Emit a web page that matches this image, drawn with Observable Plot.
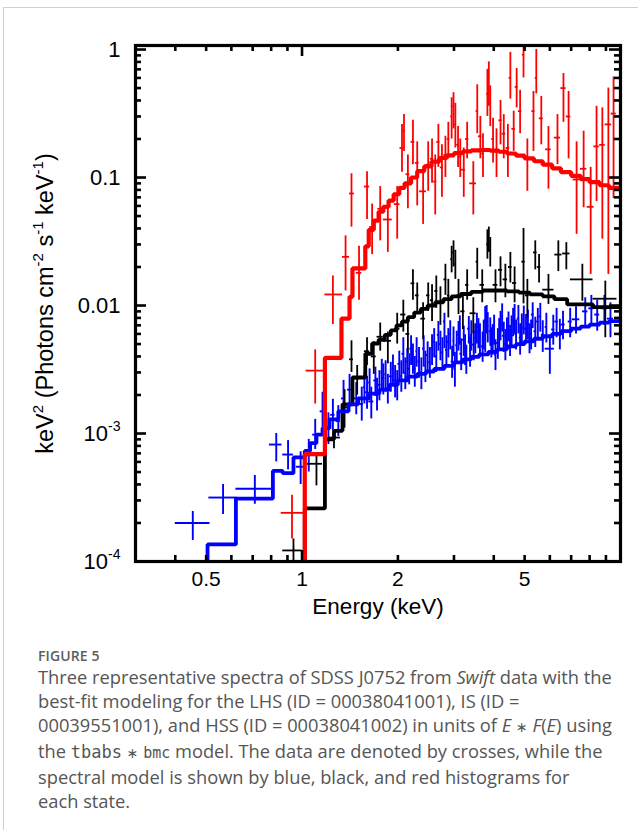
<!DOCTYPE html>
<html>
<head>
<meta charset="utf-8">
<script src="https://cdn.jsdelivr.net/npm/d3@7"></script>
<script src="https://cdn.jsdelivr.net/npm/@observablehq/plot@0.6"></script>
<style>
  html, body { margin: 0; padding: 0; background: #fff; }
  body { width: 638px; height: 830px; position: relative; overflow: hidden; }
  #border { position: absolute; left: 3px; top: 7px; width: 700px; height: 900px;
            border-left: 1px solid #cfcfcf; border-top: 1px solid #cfcfcf; }
  #chart { position: absolute; left: 0; top: 0; }
  #cap { position: absolute; left: 38px; top: 647px; font-family: "Open Sans", sans-serif; color: #555; }
  #cap .fig { font-size: 14px; font-weight: 600; line-height: 18px; color: #5c5c5c; letter-spacing: 0.1px; }
  #cap .line { font-size: 18.3px; line-height: 24px; white-space: nowrap; }
  #cap .mono { font-family: "DejaVu Sans Mono", monospace; font-size: 17px; }
  #cap .op { font-family: "DejaVu Sans", sans-serif; font-size: 14px; }
  #cap .bmc { font-family: "DejaVu Sans Mono", monospace; font-size: 15px; }
</style>
</head>
<body>
<div id="border"></div>
<div id="chart"></div>
<div id="cap">
  <div class="fig">FIGURE 5</div>
  <div class="line">Three representative spectra of SDSS J0752 from <i>Swift</i> data with the</div>
  <div class="line">best-fit modeling for the LHS (ID = 00038041001), IS (ID =</div>
  <div class="line">00039551001), and HSS (ID = 00038041002) in units of <i>E</i> <span class="op">∗</span> <i>F</i>(<i>E</i>) using</div>
  <div class="line">the <span class="mono">tbabs</span> <span class="op">∗</span> <span class="bmc">bmc</span> model. The data are denoted by crosses, while the</div>
  <div class="line">spectral model is shown by blue, black, and red histograms for</div>
  <div class="line">each state.</div>
</div>
<script>
// ---------------- axis ticks / labels ----------------
const xTickValues = [0.5, 1, 2, 5];
const xTickLabels = ["0.5", "1", "2", "5"];
const xMajorTicks = [1];
const xMinorTicks = [0.4, 0.5, 0.6, 0.7, 0.8, 0.9, 2, 3, 4, 5, 6, 7, 8, 9];
const yTickValues = [1e-4, 1e-3, 1e-2, 0.1, 1];
const yTickLabels = ["10^{-4}", "10^{-3}", "0.01", "0.1", "1"];
const yMinorTicks = [
  2e-4, 3e-4, 4e-4, 5e-4, 6e-4, 7e-4, 8e-4, 9e-4,
  2e-3, 3e-3, 4e-3, 5e-3, 6e-3, 7e-3, 8e-3, 9e-3,
  2e-2, 3e-2, 4e-2, 5e-2, 6e-2, 7e-2, 8e-2, 9e-2,
  0.2, 0.3, 0.4, 0.5, 0.6, 0.7, 0.8, 0.9
];
const xTitle = "Energy (keV)";
const yTitle = "keV^{2} (Photons cm^{-2} s^{-1} keV^{-1})";

// ---------------- data: [E, Elo, Ehi, F, Flo, Fhi] ----------------
const blueData = [
  [0.454, 0.40, 0.514, 2.0e-4, 1.46e-4, 2.46e-4],
  [0.565, 0.51, 0.625, 3.16e-4, 2.33e-4, 4.0e-4],
  [0.711, 0.62, 0.805, 3.7e-4, 2.8e-4, 4.7e-4],
  [0.83, 0.79, 0.865, 8.2e-4, 6.0e-4, 1.0e-3],
  [0.904, 0.87, 0.94, 6.85e-4, 5.2e-4, 8.8e-4],
  [0.99, 0.96, 1.02, 5.5e-4, 4.0e-4, 7.2e-4],
  [1.05, 1.03, 1.07, 7.0e-4, 5.0e-4, 9.0e-4],
  [1.10, 1.08, 1.12, 9.8e-4, 7.5e-4, 1.29e-3],
  [1.16, 1.14, 1.18, 1.49e-3, 1.1e-3, 2.1e-3],
  [1.21, 1.19, 1.23, 1.1e-3, 8.2e-4, 1.45e-3],
  [1.25, 1.23, 1.27, 1.4e-3, 1.05e-3, 1.85e-3],
  [1.30, 1.28, 1.32, 1.25e-3, 9.5e-4, 1.65e-3],
  [1.35, 1.33, 1.37, 1.88e-3, 1.3e-3, 2.6e-3],
  [1.41, 1.39, 1.43, 2.2e-3, 1.6e-3, 2.9e-3],
  [1.48, 1.46, 1.50, 1.88e-3, 1.4e-3, 2.5e-3],
  [1.54, 1.52, 1.56, 1.7e-3, 1.25e-3, 2.3e-3],
  [1.57, 1.56, 1.58, 2.3e-3, 1.7e-3, 3.0e-3],
  [1.60, 1.58, 1.62, 2.1e-3, 1.55e-3, 2.8e-3],
  [1.63, 1.62, 1.64, 2.5e-3, 1.8e-3, 3.2e-3],
  [1.65, 1.62, 1.68, 1.78e-3, 1.3e-3, 2.3e-3],
  [1.70, 1.68, 1.72, 2.6e-3, 1.95e-3, 3.3e-3],
  [1.72, 1.71, 1.73, 2.0e-3, 1.5e-3, 2.7e-3],
  [1.75, 1.73, 1.77, 2.4e-3, 1.8e-3, 3.1e-3],
  [1.78, 1.77, 1.79, 3.0e-3, 2.2e-3, 3.8e-3],
  [1.80, 1.78, 1.82, 2.7e-3, 2.0e-3, 3.5e-3],
  [1.83, 1.82, 1.84, 2.9e-3, 2.1e-3, 3.7e-3],
  [1.86, 1.84, 1.88, 2.25e-3, 1.7e-3, 2.9e-3],
  [1.90, 1.88, 1.92, 2.8e-3, 2.1e-3, 3.6e-3],
  [1.93, 1.92, 1.94, 3.2e-3, 2.4e-3, 4.1e-3],
  [1.96, 1.94, 1.98, 2.6e-3, 1.9e-3, 3.4e-3],
  [1.99, 1.98, 2.00, 2.4e-3, 1.8e-3, 3.1e-3],
  [2.02, 2.00, 2.04, 3.5e-3, 2.6e-3, 4.4e-3],
  [2.05, 2.03, 2.07, 2.8e-3, 2.1e-3, 3.7e-3],
  [2.08, 2.06, 2.10, 4.2e-3, 2.9e-3, 5.6e-3],
  [2.11, 2.10, 2.12, 3.0e-3, 2.2e-3, 3.9e-3],
  [2.14, 2.12, 2.16, 3.65e-3, 2.7e-3, 4.6e-3],
  [2.17, 2.15, 2.19, 3.2e-3, 2.4e-3, 4.2e-3],
  [2.20, 2.18, 2.22, 4.6e-3, 3.4e-3, 5.8e-3],
  [2.23, 2.22, 2.24, 3.9e-3, 2.9e-3, 5.0e-3],
  [2.26, 2.24, 2.28, 3.2e-3, 2.3e-3, 4.0e-3],
  [2.29, 2.28, 2.30, 4.4e-3, 3.3e-3, 5.6e-3],
  [2.33, 2.31, 2.35, 3.65e-3, 2.7e-3, 4.7e-3],
  [2.37, 2.35, 2.39, 3.0e-3, 2.2e-3, 3.9e-3],
  [2.41, 2.39, 2.43, 4.6e-3, 3.3e-3, 5.8e-3],
  [2.44, 2.43, 2.45, 3.4e-3, 2.5e-3, 4.4e-3],
  [2.48, 2.46, 2.50, 4.1e-3, 3.0e-3, 5.2e-3],
  [2.52, 2.50, 2.54, 3.6e-3, 2.7e-3, 4.7e-3],
  [2.56, 2.54, 2.58, 4.6e-3, 3.4e-3, 5.9e-3],
  [2.60, 2.58, 2.62, 5.2e-3, 3.9e-3, 6.6e-3],
  [2.64, 2.62, 2.66, 4.0e-3, 3.0e-3, 5.2e-3],
  [2.68, 2.66, 2.70, 5.9e-3, 4.4e-3, 7.5e-3],
  [2.72, 2.70, 2.74, 5.0e-3, 3.7e-3, 6.3e-3],
  [2.76, 2.74, 2.78, 4.3e-3, 3.2e-3, 5.6e-3],
  [2.80, 2.78, 2.82, 7.5e-3, 4.6e-3, 8.7e-3],
  [2.84, 2.82, 2.86, 4.5e-3, 3.4e-3, 5.8e-3],
  [2.88, 2.86, 2.90, 5.2e-3, 3.9e-3, 6.6e-3],
  [2.92, 2.90, 2.94, 6.0e-3, 4.5e-3, 7.6e-3],
  [2.96, 2.94, 2.98, 3.65e-3, 2.7e-3, 4.8e-3],
  [2.99, 2.98, 3.00, 5.3e-3, 4.0e-3, 6.8e-3],
  [3.02, 3.00, 3.04, 3.2e-3, 2.3e-3, 4.3e-3],
  [3.06, 3.04, 3.08, 4.9e-3, 3.6e-3, 6.3e-3],
  [3.10, 3.08, 3.13, 5.9e-3, 4.4e-3, 7.5e-3],
  [3.13, 3.12, 3.14, 6.6e-3, 4.9e-3, 8.3e-3],
  [3.16, 3.13, 3.19, 4.2e-3, 3.1e-3, 5.5e-3],
  [3.22, 3.19, 3.25, 5.4e-3, 4.0e-3, 6.9e-3],
  [3.25, 3.24, 3.26, 4.6e-3, 3.4e-3, 5.9e-3],
  [3.28, 3.25, 3.31, 3.8e-3, 2.9e-3, 4.9e-3],
  [3.34, 3.31, 3.37, 6.6e-3, 5.0e-3, 8.2e-3],
  [3.37, 3.36, 3.38, 4.4e-3, 3.3e-3, 5.7e-3],
  [3.40, 3.37, 3.43, 5.9e-3, 4.4e-3, 7.6e-3],
  [3.46, 3.43, 3.49, 4.95e-3, 3.7e-3, 6.4e-3],
  [3.50, 3.49, 3.51, 5.6e-3, 4.2e-3, 7.2e-3],
  [3.54, 3.50, 3.58, 6.8e-3, 5.0e-3, 8.7e-3],
  [3.58, 3.57, 3.59, 6.2e-3, 4.6e-3, 7.9e-3],
  [3.62, 3.59, 3.65, 5.6e-3, 4.2e-3, 7.2e-3],
  [3.69, 3.66, 3.72, 4.8e-3, 3.6e-3, 6.2e-3],
  [3.72, 3.71, 3.73, 6.0e-3, 4.5e-3, 7.7e-3],
  [3.76, 3.73, 3.79, 7.5e-3, 4.3e-3, 9.8e-3],
  [3.80, 3.79, 3.81, 8.0e-3, 6.0e-3, 1.0e-2],
  [3.83, 3.80, 3.86, 6.9e-3, 5.1e-3, 8.8e-3],
  [3.90, 3.87, 3.93, 6.3e-3, 4.8e-3, 8.0e-3],
  [3.93, 3.92, 3.94, 5.2e-3, 3.9e-3, 6.7e-3],
  [3.97, 3.94, 4.00, 5.5e-3, 4.1e-3, 7.1e-3],
  [4.01, 4.00, 4.02, 6.6e-3, 4.9e-3, 8.4e-3],
  [4.05, 4.02, 4.08, 4.14e-3, 3.1e-3, 5.4e-3],
  [4.12, 4.08, 4.16, 5.1e-3, 3.8e-3, 6.6e-3],
  [4.16, 4.14, 4.18, 6.2e-3, 4.6e-3, 7.9e-3],
  [4.20, 4.16, 4.24, 7.1e-3, 5.3e-3, 9.0e-3],
  [4.25, 4.23, 4.27, 8.2e-3, 6.2e-3, 1.03e-2],
  [4.30, 4.26, 4.34, 5.8e-3, 4.3e-3, 7.4e-3],
  [4.35, 4.33, 4.37, 5.0e-3, 3.7e-3, 6.5e-3],
  [4.40, 4.36, 4.44, 6.3e-3, 4.7e-3, 8.0e-3],
  [4.45, 4.43, 4.47, 7.0e-3, 5.2e-3, 8.9e-3],
  [4.50, 4.46, 4.54, 5.4e-3, 4.0e-3, 7.0e-3],
  [4.55, 4.53, 4.57, 6.5e-3, 4.8e-3, 8.3e-3],
  [4.60, 4.56, 4.64, 7.5e-3, 5.7e-3, 9.5e-3],
  [4.65, 4.63, 4.67, 8.0e-3, 6.0e-3, 1.02e-2],
  [4.70, 4.66, 4.74, 6.0e-3, 4.5e-3, 7.7e-3],
  [4.78, 4.74, 4.82, 7.9e-3, 6.0e-3, 1.0e-2],
  [4.84, 4.81, 4.87, 5.6e-3, 4.1e-3, 7.2e-3],
  [4.90, 4.85, 4.95, 6.7e-3, 5.0e-3, 8.6e-3],
  [4.97, 4.94, 5.00, 7.8e-3, 5.9e-3, 9.9e-3],
  [5.05, 5.00, 5.10, 6.6e-3, 5.0e-3, 8.5e-3],
  [5.12, 5.09, 5.15, 7.2e-3, 5.4e-3, 9.2e-3],
  [5.18, 5.12, 5.24, 5.6e-3, 4.2e-3, 7.2e-3],
  [5.24, 5.21, 5.27, 6.0e-3, 4.5e-3, 7.7e-3],
  [5.30, 5.25, 5.35, 8.5e-3, 6.6e-3, 1.05e-2],
  [5.40, 5.35, 5.45, 6.3e-3, 4.7e-3, 8.1e-3],
  [5.50, 5.45, 5.55, 7.5e-3, 5.6e-3, 9.5e-3],
  [5.60, 5.55, 5.65, 8.2e-3, 6.2e-3, 1.04e-2],
  [5.70, 5.64, 5.76, 5.9e-3, 4.3e-3, 7.6e-3],
  [5.85, 5.80, 5.90, 6.8e-3, 5.1e-3, 8.7e-3],
  [6.00, 5.80, 6.20, 4.6e-3, 2.9e-3, 5.6e-3],
  [6.15, 6.08, 6.22, 6.5e-3, 4.9e-3, 8.4e-3],
  [6.30, 6.22, 6.38, 7.5e-3, 5.6e-3, 9.5e-3],
  [6.45, 6.38, 6.52, 6.0e-3, 4.5e-3, 7.8e-3],
  [6.60, 6.50, 6.70, 7.1e-3, 5.4e-3, 9.0e-3],
  [6.95, 6.85, 7.05, 7.5e-3, 5.6e-3, 9.5e-3],
  [7.25, 7.05, 7.45, 7.8e-3, 6.0e-3, 9.8e-3],
  [7.75, 7.60, 7.90, 9.0e-3, 6.6e-3, 1.15e-2],
  [8.10, 7.95, 8.25, 9.5e-3, 7.0e-3, 1.2e-2],
  [8.45, 8.30, 8.60, 8.5e-3, 6.3e-3, 1.1e-2],
  [8.90, 8.70, 9.10, 9.5e-3, 7.0e-3, 1.2e-2],
  [9.30, 9.10, 9.50, 7.9e-3, 5.6e-3, 1.05e-2]
];

const blackData = [
  [0.94, 0.87, 1.00, 1.22e-4, 1.0e-4, 1.5e-4],
  [1.11, 1.04, 1.16, 5.8e-4, 3.9e-4, 6.7e-4],
  [1.26, 1.21, 1.32, 9.3e-4, 7.6e-4, 1.05e-3],
  [1.36, 1.33, 1.39, 1.6e-3, 1.1e-3, 2.2e-3],
  [1.43, 1.41, 1.45, 3.8e-3, 3.0e-3, 5.3e-3],
  [1.49, 1.45, 1.53, 2.7e-3, 2.0e-3, 3.4e-3],
  [1.60, 1.57, 1.63, 4.4e-3, 3.4e-3, 5.6e-3],
  [1.68, 1.65, 1.71, 4.0e-3, 2.9e-3, 5.2e-3],
  [1.76, 1.72, 1.80, 5.7e-3, 4.4e-3, 7.3e-3],
  [1.86, 1.81, 1.91, 5.3e-3, 3.5e-3, 6.2e-3],
  [1.99, 1.95, 2.03, 6.6e-3, 5.0e-3, 8.7e-3],
  [2.08, 2.04, 2.12, 8.5e-3, 6.2e-3, 1.1e-2],
  [2.15, 2.12, 2.18, 6.0e-3, 4.2e-3, 8.0e-3],
  [2.23, 2.20, 2.26, 1.49e-2, 1.1e-2, 1.9e-2],
  [2.30, 2.27, 2.33, 1.2e-2, 8.5e-3, 1.5e-2],
  [2.40, 2.36, 2.44, 7.9e-3, 5.4e-3, 1.05e-2],
  [2.49, 2.46, 2.52, 1.2e-2, 9.0e-3, 1.5e-2],
  [2.56, 2.53, 2.59, 1.1e-2, 7.5e-3, 1.45e-2],
  [2.64, 2.61, 2.67, 1.3e-2, 9.5e-3, 1.7e-2],
  [2.72, 2.69, 2.75, 1.05e-2, 7.0e-3, 1.4e-2],
  [2.82, 2.79, 2.85, 1.6e-2, 1.2e-2, 2.1e-2],
  [2.88, 2.86, 2.91, 1.2e-2, 8.0e-3, 1.6e-2],
  [2.95, 2.93, 2.97, 2.3e-2, 1.8e-2, 2.9e-2],
  [2.99, 2.97, 3.01, 2.6e-2, 2.0e-2, 3.2e-2],
  [3.03, 3.01, 3.05, 2.1e-2, 1.6e-2, 2.7e-2],
  [3.10, 3.06, 3.14, 1.2e-2, 8.5e-3, 1.6e-2],
  [3.20, 3.15, 3.25, 9.0e-3, 6.5e-3, 1.25e-2],
  [3.30, 3.26, 3.34, 1.45e-2, 1.1e-2, 1.9e-2],
  [3.45, 3.37, 3.52, 8.7e-3, 6.0e-3, 1.15e-2],
  [3.55, 3.52, 3.58, 2.2e-2, 1.6e-2, 2.8e-2],
  [3.68, 3.62, 3.74, 1.45e-2, 1.05e-2, 1.9e-2],
  [3.82, 3.80, 3.84, 3.0e-2, 2.3e-2, 3.9e-2],
  [3.86, 3.84, 3.88, 3.4e-2, 2.6e-2, 4.1e-2],
  [3.90, 3.88, 3.92, 2.7e-2, 2.0e-2, 3.4e-2],
  [4.05, 3.98, 4.12, 1.45e-2, 1.05e-2, 1.9e-2],
  [4.20, 4.14, 4.26, 1.9e-2, 1.4e-2, 2.4e-2],
  [4.35, 4.28, 4.42, 1.6e-2, 1.15e-2, 2.1e-2],
  [4.51, 4.45, 4.57, 2.0e-2, 1.5e-2, 2.6e-2],
  [4.65, 4.58, 4.72, 1.5e-2, 1.05e-2, 2.0e-2],
  [4.96, 4.90, 5.02, 2.2e-2, 1.03e-2, 4.0e-2],
  [5.10, 5.03, 5.17, 1.2e-2, 8.0e-3, 1.6e-2],
  [5.40, 5.33, 5.47, 2.6e-2, 1.9e-2, 3.2e-2],
  [5.55, 5.48, 5.62, 2.0e-2, 1.5e-2, 2.5e-2],
  [5.94, 5.70, 6.18, 1.33e-2, 1.02e-2, 1.75e-2],
  [6.38, 6.22, 6.55, 2.5e-2, 1.84e-2, 3.2e-2],
  [6.76, 6.58, 6.94, 2.55e-2, 1.9e-2, 3.1e-2],
  [7.59, 6.96, 8.20, 1.6e-2, 1.08e-2, 2.1e-2],
  [8.96, 8.20, 9.75, 1.13e-2, 5.6e-3, 1.55e-2]
];

const redData = [
  [0.93, 0.86, 1.01, 2.4e-4, 1.5e-4, 3.3e-4],
  [1.10, 1.03, 1.18, 3.1e-3, 1.7e-3, 4.5e-3],
  [1.25, 1.18, 1.34, 1.22e-2, 7.1e-3, 1.7e-2],
  [1.37, 1.34, 1.41, 2.4e-2, 1.3e-2, 3.5e-2],
  [1.43, 1.41, 1.46, 7.5e-2, 4.1e-2, 0.107],
  [1.51, 1.48, 1.54, 1.8e-2, 1.1e-2, 2.9e-2],
  [1.60, 1.57, 1.63, 8.5e-2, 4.7e-2, 0.111],
  [1.66, 1.63, 1.69, 4.1e-2, 2.5e-2, 6.2e-2],
  [1.76, 1.73, 1.80, 5.7e-2, 3.2e-2, 8.5e-2],
  [1.86, 1.80, 1.92, 4.7e-2, 2.6e-2, 5.7e-2],
  [1.99, 1.95, 2.03, 6.2e-2, 3.3e-2, 8.5e-2],
  [2.06, 2.03, 2.08, 0.17, 0.11, 0.26],
  [2.09, 2.07, 2.11, 0.23, 0.16, 0.31],
  [2.15, 2.12, 2.18, 0.106, 0.057, 0.15],
  [2.23, 2.20, 2.26, 0.19, 0.126, 0.28],
  [2.30, 2.27, 2.33, 0.13, 0.06, 0.19],
  [2.40, 2.34, 2.46, 0.078, 0.043, 0.111],
  [2.49, 2.46, 2.52, 0.126, 0.078, 0.19],
  [2.56, 2.53, 2.59, 0.14, 0.09, 0.20],
  [2.62, 2.59, 2.65, 0.093, 0.051, 0.15],
  [2.68, 2.65, 2.71, 0.19, 0.12, 0.26],
  [2.75, 2.72, 2.78, 0.12, 0.07, 0.18],
  [2.82, 2.79, 2.85, 0.15, 0.10, 0.21],
  [2.88, 2.86, 2.91, 0.20, 0.14, 0.27],
  [2.95, 2.93, 2.97, 0.30, 0.20, 0.42],
  [2.99, 2.97, 3.01, 0.36, 0.24, 0.46],
  [3.03, 3.01, 3.05, 0.26, 0.17, 0.38],
  [3.09, 3.06, 3.12, 0.18, 0.12, 0.25],
  [3.14, 3.12, 3.17, 0.146, 0.10, 0.20],
  [3.22, 3.17, 3.26, 0.115, 0.07, 0.17],
  [3.30, 3.26, 3.34, 0.20, 0.14, 0.27],
  [3.45, 3.36, 3.53, 0.09, 0.051, 0.133],
  [3.55, 3.52, 3.58, 0.33, 0.22, 0.53],
  [3.63, 3.58, 3.67, 0.21, 0.14, 0.30],
  [3.70, 3.67, 3.73, 0.154, 0.10, 0.22],
  [3.82, 3.80, 3.84, 0.45, 0.30, 0.70],
  [3.86, 3.84, 3.88, 0.55, 0.36, 0.80],
  [3.90, 3.88, 3.92, 0.38, 0.25, 0.52],
  [3.98, 3.94, 4.02, 0.20, 0.13, 0.29],
  [4.08, 4.03, 4.13, 0.16, 0.10, 0.24],
  [4.20, 4.15, 4.25, 0.28, 0.18, 0.40],
  [4.30, 4.25, 4.36, 0.22, 0.14, 0.31],
  [4.43, 4.37, 4.49, 0.17, 0.10, 0.26],
  [4.51, 4.47, 4.55, 0.60, 0.41, 0.95],
  [4.62, 4.56, 4.68, 0.24, 0.16, 0.33],
  [4.72, 4.67, 4.77, 0.51, 0.35, 0.71],
  [4.84, 4.78, 4.90, 0.33, 0.22, 0.48],
  [4.96, 4.92, 5.00, 0.91, 0.60, 1.2],
  [5.10, 5.02, 5.18, 0.14, 0.078, 0.20],
  [5.33, 5.27, 5.39, 0.33, 0.16, 0.47],
  [5.44, 5.40, 5.48, 0.60, 0.45, 1.0],
  [5.64, 5.56, 5.72, 0.29, 0.18, 0.43],
  [5.94, 5.82, 6.06, 0.166, 0.081, 0.25],
  [6.34, 6.20, 6.48, 0.205, 0.126, 0.31],
  [6.62, 6.50, 6.75, 0.50, 0.27, 0.65],
  [6.87, 6.76, 6.98, 0.30, 0.14, 0.47],
  [7.28, 7.10, 7.46, 0.0965, 0.036, 0.19],
  [7.66, 7.48, 7.84, 0.117, 0.058, 0.23],
  [8.06, 7.86, 8.26, 0.059, 0.0175, 0.12],
  [8.41, 8.25, 8.58, 0.175, 0.065, 0.36],
  [8.77, 8.60, 8.95, 0.18, 0.033, 0.35],
  [9.16, 8.95, 9.38, 0.26, 0.0175, 0.50],
  [9.51, 9.35, 9.70, 0.316, 0.0685, 0.61]
];

// ---------------- model histograms: bin left edges & values ----------------
const blueModelE = [0.505, 0.62, 0.81, 0.87, 0.94, 1.02, 1.06, 1.11, 1.16, 1.22, 1.30, 1.40, 1.50, 1.62, 1.75, 1.88,
  2.0, 2.15, 2.3, 2.45, 2.6, 2.8, 3.0, 3.2, 3.4, 3.6, 3.85, 4.1, 4.4, 4.7, 5.0, 5.35, 5.7, 6.1, 6.5, 7.0, 7.5, 8.0, 8.6, 9.2];
const blueModelF = [1.36e-4, 3.1e-4, 5.1e-4, 4.9e-4, 6.5e-4, 7.3e-4, 8.4e-4, 9.8e-4, 1.1e-3, 1.29e-3, 1.49e-3, 1.69e-3, 1.88e-3, 2.05e-3, 2.2e-3, 2.4e-3,
  2.6e-3, 2.78e-3, 2.92e-3, 3.05e-3, 3.2e-3, 3.38e-3, 3.6e-3, 3.8e-3, 3.97e-3, 4.15e-3, 4.35e-3, 4.55e-3, 4.8e-3, 5.0e-3, 5.25e-3, 5.5e-3, 5.75e-3, 6.0e-3, 6.3e-3, 6.6e-3, 6.85e-3, 7.1e-3, 7.35e-3, 7.55e-3];

const blackModelE = [1.02, 1.18, 1.26, 1.34, 1.44, 1.58, 1.66, 1.74, 1.82, 1.90, 1.98, 2.06, 2.15, 2.25, 2.36, 2.48, 2.62, 2.78, 2.95, 3.15, 3.4, 3.7, 4.0, 4.4, 4.8, 5.2, 5.7, 6.2, 6.8, 8.2];
const blackModelF = [2.6e-4, 9.0e-4, 1.05e-3, 1.69e-3, 2.74e-3, 4.2e-3, 5.05e-3, 5.4e-3, 5.9e-3, 6.4e-3, 7.0e-3, 7.5e-3, 8.1e-3, 8.8e-3, 9.4e-3, 1.0e-2, 1.06e-2, 1.12e-2, 1.18e-2, 1.23e-2, 1.28e-2, 1.31e-2, 1.31e-2, 1.29e-2, 1.26e-2, 1.22e-2, 1.18e-2, 1.12e-2, 1.02e-2, 9.7e-3];

const redModelE = [1.02, 1.18, 1.33, 1.41, 1.44, 1.58, 1.62, 1.68, 1.74, 1.80, 1.87, 1.94, 2.02, 2.10, 2.20, 2.30, 2.42, 2.55, 2.70, 2.85, 3.0, 3.2, 3.4, 3.65, 3.9, 4.15, 4.4, 4.7, 5.0, 5.35, 5.7, 6.1, 6.5, 7.0, 7.5, 8.0, 8.6, 9.2];
const redModelF = [6.9e-4, 3.9e-3, 7.9e-3, 1.17e-2, 1.95e-2, 2.9e-2, 3.9e-2, 4.6e-2, 5.4e-2, 5.9e-2, 6.6e-2, 7.4e-2, 8.3e-2, 9.0e-2, 0.100, 0.112, 0.122, 0.133, 0.142, 0.149, 0.155, 0.160, 0.163, 0.164, 0.162, 0.159, 0.154, 0.148, 0.141, 0.134, 0.126, 0.118, 0.110, 0.103, 0.097, 0.092, 0.087, 0.083];

// ---------------- layout ----------------
const W = 638, H = 620, ML = 135, MR = 18, MT = 45, MB = 59;
const plotW = W - ML - MR, plotH = H - MT - MB;
const xDomain = [0.3, 10], yDomain = [1e-4, 1.075];
const RED = "#ff0000", BLUE = "#0000ff", BLACK = "#000000";

const rows = arr => arr.map(([e, elo, ehi, f, flo, fhi]) => ({e, elo, ehi, f, flo, fhi}));
function stepPoints(edges, vals) {
  const pts = [{e: edges[0], f: yDomain[0]}];
  edges.forEach((e, i) => pts.push({e, f: vals[i]}));
  pts.push({e: xDomain[1], f: vals[vals.length - 1]});
  return pts;
}
const xLab = new Map(xTickValues.map((v, i) => [v, xTickLabels[i]]));
const yLab = new Map(yTickValues.map((v, i) => [v, yTickLabels[i]]));

function crosses(data, color, sw) {
  const d = rows(data);
  return [
    Plot.ruleY(d, {y: "f", x1: "elo", x2: "ehi", stroke: color, strokeWidth: sw, clip: true}),
    Plot.ruleX(d, {x: "e", y1: "flo", y2: "fhi", stroke: color, strokeWidth: sw, clip: true})
  ];
}
function model(E, F, color, sw) {
  return Plot.line(stepPoints(E, F), {x: "e", y: "f", curve: "step-after", stroke: color, strokeWidth: sw, strokeLinejoin: "miter", clip: true});
}
const tk = {stroke: "black", strokeWidth: 2.6};
const minL = 6, majL = 11;

const svg = Plot.plot({
  width: W, height: H,
  marginLeft: ML, marginRight: MR, marginTop: MT, marginBottom: MB,
  x: {type: "log", domain: xDomain, axis: null},
  y: {type: "log", domain: yDomain, axis: null},
  style: {fontFamily: "'Liberation Sans', Arial, sans-serif", background: "transparent", color: "black", overflow: "visible"},
  marks: [
    ...crosses(blueData, BLUE, 1.9),
    ...crosses(blackData, BLACK, 1.8),
    ...crosses(redData, RED, 1.8),
    model(blackModelE, blackModelF, BLACK, 3.8),
    model(blueModelE, blueModelF, BLUE, 3.8),
    model(redModelE, redModelF, RED, 4.2),
    // inward ticks on all four sides
    Plot.tickX(xMinorTicks, {x: d => d, insetTop: plotH - minL, ...tk}),
    Plot.tickX(xMinorTicks, {x: d => d, insetBottom: plotH - minL, ...tk}),
    Plot.tickX(xMajorTicks, {x: d => d, insetTop: plotH - majL, ...tk}),
    Plot.tickX(xMajorTicks, {x: d => d, insetBottom: plotH - majL, ...tk}),
    Plot.tickY(yMinorTicks, {y: d => d, insetRight: plotW - minL, ...tk}),
    Plot.tickY(yMinorTicks, {y: d => d, insetLeft: plotW - minL, ...tk}),
    Plot.tickY(yTickValues, {y: d => d, insetRight: plotW - majL, ...tk}),
    Plot.tickY(yTickValues, {y: d => d, insetLeft: plotW - majL, ...tk}),
    Plot.frame({stroke: "black", strokeWidth: 3.2}),
    // tick labels
    Plot.text(xTickValues, {x: d => d, text: d => xLab.get(d), frameAnchor: "bottom", lineAnchor: "top", textAnchor: "middle", dy: 10, fontSize: 21, fill: "black"}),
    Plot.text(yTickValues, {y: d => d, text: d => yLab.get(d), frameAnchor: "left", lineAnchor: "middle", textAnchor: "end", dx: -15, fontSize: 22, fill: "black"}),
    // axis titles
    Plot.text([xTitle], {text: d => d, frameAnchor: "bottom", lineAnchor: "middle", textAnchor: "middle", dy: 45, fontSize: 22.5, fill: "black"}),
    Plot.text([yTitle], {text: d => d, frameAnchor: "left", lineAnchor: "middle", textAnchor: "middle", dx: -90, rotate: -90, fontSize: 23.5, fill: "black"})
  ]
});

// superscripts as real text tspans
function supify(el, fs) {
  const s = el.textContent;
  const parts = s.split(/(\^\{[^}]*\})/).filter(p => p.length);
  el.textContent = "";
  const shift = fs * 0.42;
  let raised = false;
  for (const p of parts) {
    const t = document.createElementNS("http://www.w3.org/2000/svg", "tspan");
    if (p.startsWith("^{")) {
      t.textContent = p.slice(2, -1);
      t.setAttribute("font-size", (fs * 0.64).toFixed(1));
      t.setAttribute("dy", (-shift).toFixed(1));
      raised = true;
    } else {
      t.textContent = p;
      if (raised) t.setAttribute("dy", shift.toFixed(1));
      raised = false;
    }
    el.appendChild(t);
  }
}
svg.querySelectorAll("text").forEach(t => {
  if (t.textContent.includes("^{")) supify(t, t.textContent.includes("Photons") ? 23.5 : 22);
});
document.getElementById("chart").appendChild(svg);
</script>
</body>
</html>
